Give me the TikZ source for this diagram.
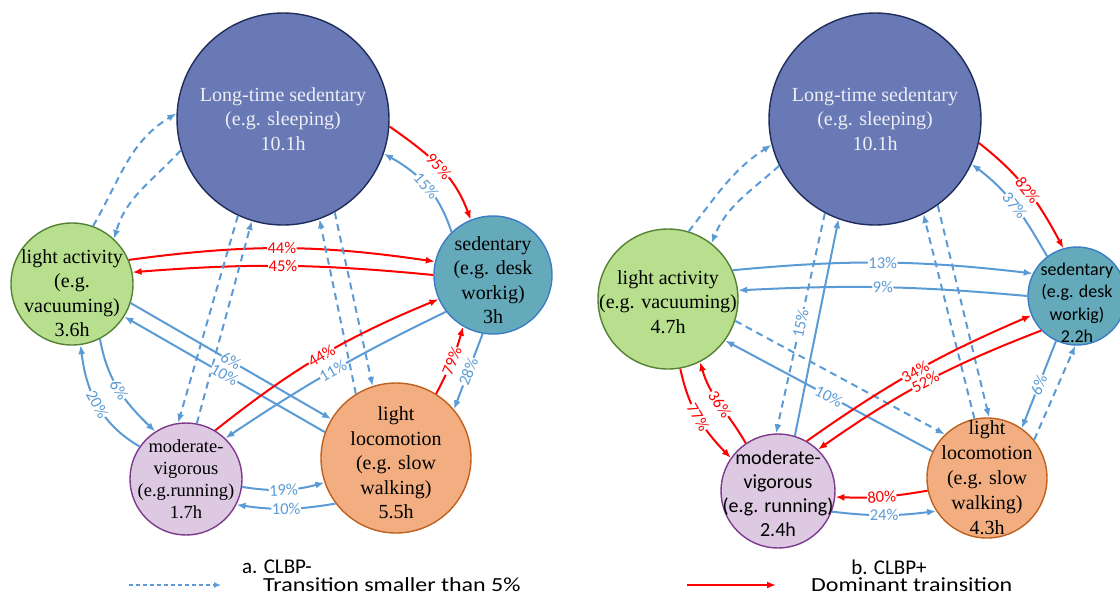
\documentclass[tikz,border=0pt]{standalone}
\usepackage{fontspec}
\setmainfont{Liberation Serif}
\newfontfamily\calibri{Carlito}
\newfontfamily\calibriancha[FakeStretch=1.2]{Carlito}
\usetikzlibrary{arrows.meta}
\definecolor{Azul}{HTML}{5B9BD5}
\definecolor{Rojo}{HTML}{FF0000}
\definecolor{Pizarra}{HTML}{6979B5}
\definecolor{PizarraBorde}{HTML}{1F2D5A}
\definecolor{Verde}{HTML}{B8DF8E}
\definecolor{VerdeBorde}{HTML}{548235}
\definecolor{Turquesa}{HTML}{64AABB}
\definecolor{TurquesaBorde}{HTML}{3B7DC4}
\definecolor{Lila}{HTML}{DDC9E2}
\definecolor{LilaBorde}{HTML}{7E3A8C}
\definecolor{Naranja}{HTML}{F2AE80}
\definecolor{NaranjaBorde}{HTML}{C0601E}
\definecolor{Claro}{HTML}{EEEEF4}

\begin{document}
\begin{tikzpicture}[x=1pt,y=-1pt,
  estado/.style={circle,draw,line width=1.4pt,inner sep=0pt},
  texto/.style={align=center,font=\fontsize{20}{24.5}\selectfont},
  flecha/.style={Azul,line width=2pt,-{Latex[length=9pt,width=7pt]}},
  punteada/.style={flecha,dash pattern=on 7pt off 5pt},
  dominante/.style={flecha,Rojo},
  etq/.style={font=\calibri\fontsize{16.5}{16.5}\selectfont,fill=white,inner sep=0.5pt,sloped},
  leyenda/.style={font=\calibriancha\fontsize{20}{20}\selectfont,inner sep=0pt}]
\useasboundingbox (0,0) rectangle (1120,606);

\node[estado,fill=Pizarra,draw=PizarraBorde,minimum size=212pt,label={[texto,text=Claro]center:Long-time sedentary\\(e.g. sleeping)\\10.1h}] (LTSa) at (283,119) {};
\node[estado,fill=Verde,draw=VerdeBorde,minimum size=122pt,label={[texto,yshift=-9pt]center:light activity\\(e.g.\\vacuuming)\\3.6h}] (LAa) at (72,284) {};
\node[estado,fill=Turquesa,draw=TurquesaBorde,minimum size=118pt,label={[texto,yshift=-5pt]center:sedentary\\(e.g. desk\\workig)\\3h}] (SDa) at (493,275) {};
\node[estado,fill=Lila,draw=LilaBorde,minimum size=112pt,label={[texto,font=\fontsize{18.5}{22}\selectfont]center:moderate-\\vigorous\\(e.g.running)\\1.7h}] (MVa) at (186,479) {};
\node[estado,fill=Naranja,draw=NaranjaBorde,minimum size=150pt,label={[texto,yshift=-5pt]center:light\\locomotion\\(e.g. slow\\walking)\\5.5h}] (LLa) at (396,458) {};

\node[estado,fill=Pizarra,draw=PizarraBorde,minimum size=212pt,label={[texto,text=Claro]center:Long-time sedentary\\(e.g. sleeping)\\10.1h}] (LTSb) at (875,119) {};
\node[estado,fill=Verde,draw=VerdeBorde,minimum size=140pt,label={[texto,yshift=-3pt]center:light activity\\(e.g. vacuuming)\\4.7h}] (LAb) at (668,299) {};
\node[estado,fill=Turquesa,draw=TurquesaBorde,minimum size=98pt,label={[texto,yshift=-7pt,font=\calibri\fontsize{18}{22.5}\selectfont]center:sedentary\\(e.g. desk\\workig)\\2.2h}] (SDb) at (1077,296) {};
\node[estado,fill=Lila,draw=LilaBorde,minimum size=114pt,label={[texto,yshift=-3pt,font=\calibri\fontsize{20}{24}\selectfont]center:moderate-\\vigorous\\(e.g. running)\\2.4h}] (MVb) at (778,491) {};
\node[estado,fill=Naranja,draw=NaranjaBorde,minimum size=120pt,label={[texto,font=\fontsize{20}{25}\selectfont]center:light\\locomotion\\(e.g. slow\\walking)\\4.3h}] (LLb) at (987,478) {};

\draw[dominante] (LTSa.-4) to[out=-35,in=110] node[etq]{95\%} (SDa.112);
\draw[flecha] (SDa.134) to[out=108,in=-29] node[etq]{15\%} (LTSa.-19);
\draw[punteada] (LAa.70) to[out=60,in=-149] (LTSa.177);
\draw[punteada] (LTSa.197) to[out=227,in=74] (LAa.47);
\draw[dominante] (LAa.23) to[bend left=8] node[etq]{44\%} (SDa.167);
\draw[dominante] (SDa.180) to[bend right=5] node[etq]{45\%} (LAa.11);
\draw[punteada] (LTSa.245) -- (MVa.98);
\draw[punteada] (MVa.79) -- (LTSa.253);
\draw[punteada] (LTSa.299) -- (LLa.108);
\draw[punteada] (LLa.122) -- (LTSa.290);
\draw[flecha] (LAa.297) to[out=-80,in=136] node[etq]{6\%} (MVa.123);
\draw[flecha] (MVa.145) to[out=150,in=-83] node[etq]{20\%} (LAa.278);
\draw[flecha] (LAa.342) -- node[etq]{6\%} (LLa.149);
\draw[flecha] (LLa.160) -- node[etq]{10\%} (LAa.328);
\draw[dominante] (MVa.59) to[bend left=8] node[etq]{44\%} (SDa.204);
\draw[flecha] (SDa.218) to[bend right=4] node[etq]{11\%} (MVa.46);
\draw[dominante] (LLa.58) to[bend right=6] node[etq]{79\%} (SDa.240);
\draw[flecha] (SDa.260) -- node[etq]{28\%} (LLa.40);
\draw[flecha] (MVa.352) to[bend right=12] node[etq]{19\%} (LLa.199);
\draw[flecha] (LLa.217) to[bend left=9] node[etq]{10\%} (MVa.333);

\draw[dominante] (LTSb.-13) to[out=-38,in=118] node[etq]{82\%} (SDb.106);
\draw[flecha] (SDb.127) to[out=120,in=-37] node[etq]{37\%} (LTSb.-25);
\draw[punteada] (LAb.73) to[out=52,in=-147] (LTSb.194);
\draw[punteada] (LTSb.206) to[out=222,in=68] (LAb.52);
\draw[flecha] (LAb.24) to[bend left=6] node[etq]{13\%} (SDb.153);
\draw[flecha] (SDb.180) to[bend right=4] node[etq]{9\%} (LAb.7);
\draw[punteada] (LTSb.242) -- node[etq]{15\%} (MVb.92);
\draw[flecha] (MVb.73) -- (LTSb.250);
\draw[punteada] (LTSb.306) -- (LLb.88);
\draw[punteada] (LLb.102) -- (LTSb.297);
\draw[punteada] (LAb.342) -- (LLb.134);
\draw[flecha] (LLb.154) -- node[etq]{10\%} (LAb.324);
\draw[dominante] (LAb.280) to[out=-78,in=134] node[etq]{77\%} (MVb.145);
\draw[dominante] (MVb.124) to[out=120,in=-74] node[etq]{36\%} (LAb.297);
\draw[dominante] (MVb.60) to[bend left=6] node[etq]{34\%} (SDb.203);
\draw[dominante] (SDb.224) to[bend right=7] node[etq]{52\%} (MVb.46);
\draw[flecha] (SDb.245) -- node[etq]{6\%} (LLb.55);
\draw[punteada] (LLb.39) -- (SDb.268);
\draw[dominante] (LLb.192) to[bend left=6] node[etq]{80\%} (MVb.-6);
\draw[flecha] (MVb.339) to[bend right=7] node[etq]{24\%} (LLb.213);

\node[font=\calibri\fontsize{21}{21}\selectfont] (capa) at (277,567) {a. CLBP-};
\node[font=\calibri\fontsize{21}{21}\selectfont] (capb) at (889,567) {b. CLBP+};
\coordinate (pa) at (129,585);
\coordinate (pb) at (221,585);
\draw[punteada,line width=1.3pt,dash pattern=on 4pt off 3pt,-{Latex[length=7pt,width=6pt]}] (pa) -- (pb);
\node[leyenda,anchor=west] (tpeq) at (263,585) {Transition smaller than 5\%};
\coordinate (pc) at (687,585);
\coordinate (pd) at (776,585);
\draw[dominante] (pc) -- (pd);
\node[leyenda,anchor=west] (tdom) at (811,585) {Dominant trainsition};
\end{tikzpicture}
\end{document}
